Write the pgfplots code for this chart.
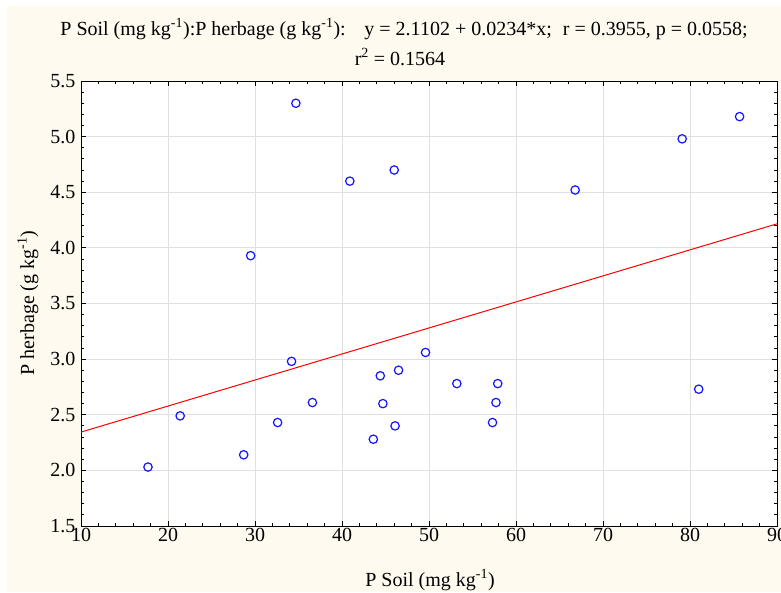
\documentclass[border=0pt]{standalone}
\usepackage{fontspec}
\setmainfont{Liberation Serif}
\usepackage{pgfplots}
\pgfplotsset{compat=1.18}
\definecolor{bgcream}{RGB}{255,250,240}
\definecolor{gridgray}{RGB}{224,224,224}
\definecolor{ptblue}{RGB}{20,20,255}
\newcommand{\fs}{\fontsize{20}{23}\selectfont}
\begin{document}
\begin{tikzpicture}[x=1pt,y=1pt]
\useasboundingbox (0,0) rectangle (781,592);
\fill[white] (0,0) rectangle (781,592);
\fill[bgcream] (7,0) rectangle (781,586);
\begin{axis}[
  at={(81pt,66pt)}, anchor=south west, scale only axis,
  width=696pt, height=445pt,
  xmin=10, xmax=90, ymin=1.5, ymax=5.5,
  xtick={10,20,30,40,50,60,70,80,90},
  ytick={1.5,2.0,2.5,3.0,3.5,4.0,4.5,5.0,5.5},
  minor x tick num=4, minor y tick num=4,
  tick pos=both, tick align=inside,
  major tick length=5pt, minor tick length=3pt,
  grid=major, major grid style={gridgray, line width=0.9pt},
  axis line style={black, line width=1pt},
  every tick/.style={black, line width=0.8pt},
  axis background/.style={fill=white},
  ticklabel style={font=\fs},
  xticklabel style={yshift=1pt},
  yticklabel style={xshift=-2pt},
  /pgf/number format/assume math mode=true,
  yticklabel style={/pgf/number format/fixed, /pgf/number format/fixed zerofill, /pgf/number format/precision=1},
]
\addplot[only marks, mark=o, mark size=4.2pt, ptblue, mark options={line width=1.2pt}] coordinates {
(17.7,2.03) (21.4,2.49) (28.7,2.14) (29.5,3.93) (32.6,2.43) (34.2,2.98)
(34.7,5.30) (36.6,2.61) (40.9,4.60) (43.6,2.28) (44.4,2.85) (44.7,2.60)
(46.0,4.70) (46.1,2.40) (46.5,2.90) (49.6,3.06) (53.2,2.78) (57.3,2.43)
(57.7,2.61) (57.9,2.78) (66.8,4.52) (79.1,4.98) (81.0,2.73) (85.7,5.18)
};
\addplot[red, line width=1pt] coordinates {(10,2.3442) (90,4.2162)};
\end{axis}
\node[font=\fs] at (404,563) {P Soil (mg kg\textsuperscript{-1}):P herbage (g kg\textsuperscript{-1}):\hspace{0.6em} y = 2.1102 + 0.0234*x;\hspace{0.3em} r = 0.3955, p = 0.0558;};
\node[font=\fs] at (400,535) {r\textsuperscript{2} = 0.1564};
\node[font=\fs] at (430,12) {P Soil (mg kg\textsuperscript{-1})};
\node[font=\fs, rotate=90] at (28,289) {P herbage (g kg\textsuperscript{-1})};
\end{tikzpicture}
\end{document}
